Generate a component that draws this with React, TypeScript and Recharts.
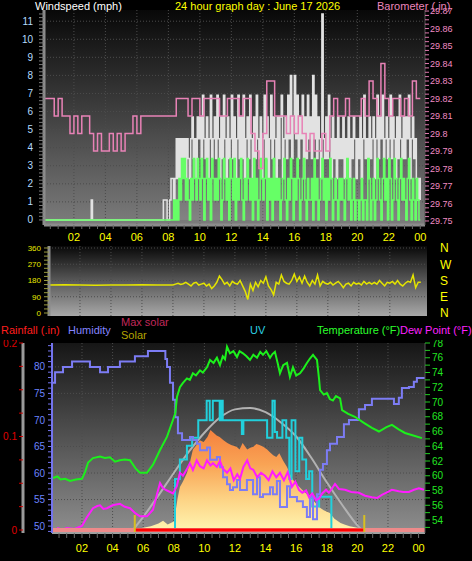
import React from 'react';
import { ComposedChart, Line, Area, XAxis, YAxis, CartesianGrid, ReferenceLine } from 'recharts';

const FONT = "'Liberation Sans', Arial, sans-serif";

// ---- shared axis labels ----
const hourLabels = ['02', '04', '06', '08', '10', '12', '14', '16', '18', '20', '22', '00'];
const evenHours = [2, 4, 6, 8, 10, 12, 14, 16, 18, 20, 22];
const halfHours = Array.from({ length: 48 }, (_, i) => (i + 1) / 2);
const hourTick = (v: number) => (v % 2 === 0 ? hourLabels[v / 2 - 1] : '');

// ---- top panel: wind speed (mph), quiet night then 5-minute samples from 08:00 ----
const gustQuiet = [[0, 0], [3.05, 0], [3.1, 1.1], [3.18, 0], [7.68, 1.1], [7.92, 0]];
const gustRows = [
  [0, 1.1, 2.3, 2.3, 1.1, 2.3, 4.5, 2.3, 4.5, 2.3, 4.5, 3.4],
  [4.5, 2.3, 4.5, 3.4, 2.3, 4.5, 5.7, 3.4, 4.5, 2.3, 5.7, 4.5],
  [5.7, 3.4, 6.9, 4.5, 3.4, 5.7, 2.3, 4.5, 6.9, 3.4, 4.5, 5.7],
  [3.4, 6.9, 4.5, 2.3, 5.7, 3.4, 6.9, 4.5, 2.3, 5.7, 3.4, 4.5],
  [6.9, 3.4, 5.7, 2.3, 4.5, 6.9, 3.4, 5.7, 3.4, 6.9, 2.3, 4.5],
  [5.7, 3.4, 6.9, 4.5, 2.3, 5.7, 3.4, 6.9, 4.5, 3.4, 5.7, 2.3],
  [4.5, 6.9, 3.4, 5.7, 2.3, 4.5, 6.9, 3.4, 5.7, 4.5, 2.3, 5.7],
  [3.4, 5.7, 6.9, 2.3, 4.5, 5.7, 3.4, 6.9, 4.5, 8.0, 3.4, 5.7],
  [8.0, 4.5, 6.9, 3.4, 5.7, 4.5, 6.9, 2.3, 5.7, 3.4, 6.9, 4.5],
  [5.7, 3.4, 8.0, 4.5, 6.9, 3.4, 5.7, 4.5, 2.3, 11.4, 4.5, 3.4],
  [5.7, 3.4, 6.9, 4.5, 2.3, 5.7, 3.4, 4.5, 2.3, 5.7, 3.4, 4.5],
  [3.4, 5.7, 2.3, 4.5, 3.4, 5.7, 2.3, 4.5, 3.4, 5.7, 4.5, 2.3],
  [4.5, 3.4, 5.7, 2.3, 4.5, 6.9, 3.4, 4.5, 2.3, 5.7, 3.4, 4.5],
  [5.7, 2.3, 4.5, 6.9, 3.4, 5.7, 4.5, 6.9, 3.4, 4.5, 5.7, 3.4],
  [4.5, 6.9, 3.4, 5.7, 4.5, 2.3, 5.7, 3.4, 6.9, 4.5, 3.4, 5.7],
  [3.4, 5.7, 4.5, 6.9, 2.3, 4.5, 5.7, 3.4, 4.5, 2.3, 1.1, 2.3],
];
const gustEnd = 1.1;

const avgQuiet = [[0, 0]];
const avgRows = [
  [0, 0, 0, 0, 1.1, 0, 1.1, 0, 2.3, 1.1, 3.4, 2.3],
  [3.4, 1.1, 2.3, 1.1, 0, 2.3, 1.1, 3.4, 2.3, 1.1, 3.4, 2.3],
  [1.1, 3.4, 2.3, 0, 2.3, 3.4, 1.1, 2.3, 0, 3.4, 2.3, 1.1],
  [2.3, 1.1, 3.4, 2.3, 0, 1.1, 3.4, 2.3, 1.1, 2.3, 0, 3.4],
  [2.3, 1.1, 3.4, 0, 2.3, 1.1, 2.3, 3.4, 1.1, 0, 2.3, 1.1],
  [3.4, 2.3, 1.1, 2.3, 0, 3.4, 1.1, 2.3, 0, 1.1, 3.4, 2.3],
  [1.1, 2.3, 3.4, 0, 2.3, 1.1, 2.3, 0, 3.4, 1.1, 2.3, 1.1],
  [2.3, 0, 1.1, 2.3, 3.4, 1.1, 0, 2.3, 1.1, 3.4, 2.3, 0],
  [2.3, 1.1, 3.4, 2.3, 0, 1.1, 2.3, 3.4, 1.1, 0, 2.3, 1.1],
  [1.1, 2.3, 0, 3.4, 1.1, 2.3, 0, 1.1, 2.3, 3.4, 1.1, 2.3],
  [0, 2.3, 1.1, 3.4, 2.3, 0, 1.1, 2.3, 1.1, 0, 2.3, 1.1],
  [2.3, 1.1, 0, 2.3, 3.4, 1.1, 2.3, 0, 1.1, 2.3, 0, 1.1],
  [1.1, 0, 1.1, 2.3, 0, 1.1, 1.1, 0, 3.4, 2.3, 0, 1.1],
  [2.3, 0, 1.1, 3.4, 2.3, 1.1, 0, 2.3, 3.4, 1.1, 2.3, 0],
  [3.4, 2.3, 0, 1.1, 3.4, 2.3, 1.1, 0, 2.3, 3.4, 1.1, 2.3],
  [1.1, 0, 2.3, 3.4, 1.1, 0, 2.3, 1.1, 0, 2.3, 1.1, 0],
];
const avgEnd = 0;

// barometer (in), 15-minute samples from 00:00
const baroRows = [
  [29.82, 29.82, 29.82, 29.81], [29.82, 29.81, 29.81, 29.80], [29.81, 29.80, 29.81, 29.81],
  [29.80, 29.79, 29.80, 29.79], [29.79, 29.80, 29.79, 29.80], [29.79, 29.80, 29.80, 29.81],
  [29.80, 29.81, 29.81, 29.81], [29.81, 29.81, 29.81, 29.81], [29.81, 29.81, 29.82, 29.82],
  [29.82, 29.81, 29.82, 29.82], [29.81, 29.82, 29.82, 29.82], [29.82, 29.81, 29.81, 29.82],
  [29.82, 29.82, 29.81, 29.82], [29.82, 29.80, 29.79, 29.78], [29.80, 29.83, 29.83, 29.81],
  [29.81, 29.81, 29.80, 29.81], [29.80, 29.81, 29.80, 29.79], [29.80, 29.79, 29.79, 29.80],
  [29.79, 29.81, 29.82, 29.81], [29.81, 29.82, 29.81, 29.81], [29.81, 29.82, 29.81, 29.83],
  [29.82, 29.81, 29.84, 29.82], [29.81, 29.82, 29.82, 29.81], [29.82, 29.81, 29.83, 29.82],
];
const baroEnd = 29.82;

// ---- middle panel: wind direction (deg) ----
const dirNight = [[0, 155], [1, 157], [2, 155], [3, 154], [4, 155], [5, 155], [6, 156], [7, 155]];
const dirRows = [
  [155, 160, 165, 158, 162, 170],
  [160, 150, 165, 170, 155, 160],
  [165, 150, 160, 135, 150, 170],
  [205, 185, 160, 170, 150, 175],
  [165, 160, 180, 150, 120, 75],
  [160, 125, 170, 145, 180, 165],
  [200, 150, 130, 100, 170, 160],
  [210, 175, 165, 160, 180, 215],
  [175, 200, 165, 205, 170, 150],
  [180, 160, 210, 150, 175, 165],
  [160, 170, 155, 165, 175, 160],
  [140, 160, 165, 150, 170, 160],
  [165, 155, 175, 160, 170, 160],
  [170, 160, 180, 165, 150, 170],
  [165, 175, 160, 180, 160, 150],
  [165, 175, 170, 210, 140, 170],
];
const dirEnd = 170;
const compass: Record<number, string> = { 0: 'N', 90: 'E', 180: 'S', 270: 'W', 360: 'N' };

// ---- bottom panel: [hour, value] readings ----
const humidity = [
  [0.1, 77], [0.24, 79], [0.76, 80], [1.35, 81], [2.52, 80], [3.18, 79], [3.7, 80], [4.48, 81],
  [5.46, 82], [6.31, 83], [7.29, 83], [7.45, 81.5], [7.56, 80], [7.75, 77], [7.95, 73.8], [8.1, 70.5],
  [8.27, 67.5], [8.54, 66.2], [9.06, 66.8], [9.25, 66.2], [9.52, 65.5], [9.71, 64.3], [10.17, 64.8],
  [10.37, 62.5], [10.82, 63], [11.02, 61.1], [11.22, 59.2], [11.48, 57.9], [11.67, 56.8], [11.87, 57.3],
  [12.13, 58.7], [12.33, 56.8], [12.78, 58.7], [13.18, 56.0], [13.44, 59.2], [13.63, 55.5], [13.83, 56],
  [14.29, 57.3], [14.48, 56.0], [14.74, 58.5], [14.94, 53.6], [15.4, 57.5], [15.59, 55.5], [16.05, 54.7],
  [16.44, 53.6], [16.7, 51.7], [16.9, 55.5], [17.1, 51.3], [17.36, 56], [17.56, 60.6], [17.75, 61.7],
  [18.01, 64.3], [18.21, 65.5], [18.67, 66.8], [19.12, 69.2], [19.45, 70], [20.1, 72], [20.5, 72.8],
  [20.95, 74], [22.26, 74], [22.39, 73], [22.71, 74.2], [22.91, 76], [23.37, 76.2], [23.69, 77.2],
  [23.89, 77.9], [24.35, 78.1],
];
const temperature = [
  [0.1, 59.7], [0.4, 59.9], [0.6, 59.5], [0.9, 59.6], [1.22, 59.3], [1.6, 59.5], [2.0, 59.6], [2.2, 60.5],
  [2.4, 61.8], [2.72, 62.4], [3.18, 62.6], [3.5, 62.4], [3.83, 62.5], [4.16, 61.9], [4.48, 62.1], [4.8, 62.2],
  [5.14, 62.1], [5.5, 61.0], [5.79, 60.4], [6.25, 60.4], [6.64, 61.5], [7.1, 63.5], [7.56, 65.3], [7.95, 67.6],
  [8.1, 68.5], [8.21, 70.7], [8.4, 72.0], [8.6, 72.6], [8.86, 73.2], [9.05, 73.0], [9.25, 73.9], [9.45, 73.6],
  [9.71, 74.3], [9.9, 74.0], [10.17, 74.7], [10.37, 75.7], [10.6, 75.3], [10.82, 76.0], [11.02, 75.0],
  [11.2, 76.2], [11.35, 75.8], [11.48, 77.5], [11.67, 76.6], [11.9, 76.9], [12.13, 76.1], [12.3, 76.9],
  [12.52, 76.6], [12.75, 76.2], [12.98, 75.7], [13.2, 76.4], [13.44, 76.0], [13.65, 76.8], [13.83, 76.4],
  [14.05, 76.9], [14.29, 76.0], [14.45, 76.5], [14.61, 76.8], [14.8, 75.2], [14.94, 73.9], [15.15, 75.0],
  [15.4, 75.3], [15.59, 73.4], [15.79, 74.7], [16.0, 73.6], [16.25, 73.9], [16.5, 74.6], [16.7, 75.3],
  [16.9, 75.9], [17.1, 76.4], [17.36, 75.7], [17.5, 73.0], [17.56, 71.6], [17.8, 71.0], [18.01, 71.2],
  [18.2, 70.4], [18.4, 70.2], [18.6, 70.8], [18.87, 70.5], [19.0, 68.9], [19.4, 68.4], [19.84, 68.0],
  [20.4, 67.2], [20.95, 66.5], [21.41, 66.0], [21.9, 66.6], [22.26, 66.9], [22.7, 66.3], [23.11, 65.8],
  [23.6, 65.5], [24.22, 65.1],
];
const dewPoint = [
  [0.1, 52.2], [0.43, 52.9], [0.7, 52.7], [1.02, 52.9], [1.5, 52.8], [2.0, 53.2], [2.3, 54.3], [2.72, 55.6],
  [3.0, 55.9], [3.18, 56.0], [3.4, 55.5], [3.63, 55.6], [4.0, 56.0], [4.48, 56.2], [4.8, 55.8], [5.14, 55.6],
  [5.5, 54.9], [5.79, 54.5], [6.25, 54.5], [6.64, 55.4], [6.9, 57.5], [7.1, 59.0], [7.3, 58.3], [7.56, 58.0],
  [7.95, 57.6], [8.2, 58.6], [8.4, 60.4], [8.6, 60.0], [8.86, 60.9], [9.05, 61.7], [9.25, 60.8], [9.5, 62.1],
  [9.71, 61.3], [9.95, 61.0], [10.17, 62.1], [10.4, 61.4], [10.56, 61.7], [10.82, 61.2], [11.02, 62.0],
  [11.2, 61.0], [11.48, 60.4], [11.7, 61.0], [11.92, 59.4], [12.15, 60.2], [12.33, 59.6], [12.55, 61.2],
  [12.8, 62.1], [13.0, 61.0], [13.2, 60.8], [13.45, 59.8], [13.7, 60.4], [13.96, 60.0], [14.2, 59.4],
  [14.45, 60.6], [14.7, 59.8], [14.94, 60.4], [15.2, 59.4], [15.45, 60.5], [15.72, 58.5], [15.95, 59.2],
  [16.18, 58.1], [16.4, 57.7], [16.65, 58.0], [16.84, 57.1], [17.05, 57.6], [17.3, 56.7], [17.49, 56.9],
  [17.7, 57.6], [17.95, 58.1], [18.14, 57.7], [18.35, 58.3], [18.54, 58.9], [18.8, 58.2], [19.19, 58.1],
  [19.6, 57.8], [20.1, 57.7], [20.5, 57.3], [20.95, 57.1], [21.3, 57.0], [21.6, 57.4], [21.9, 57.7],
  [22.26, 58.1], [22.7, 57.9], [23.0, 57.8], [23.37, 57.8], [23.7, 58.1], [24.02, 58.3], [24.35, 58.1],
];
const solar = [
  [5.3, 0], [5.5, 5], [6.0, 12], [6.5, 20], [7.0, 35], [7.3, 50], [7.6, 30], [8.0, 45], [8.1, 90], [8.25, 170],
  [8.4, 230], [8.6, 260], [8.86, 305], [9.05, 360], [9.25, 430], [9.45, 450], [9.7, 480], [9.95, 470],
  [10.2, 497], [10.4, 535], [10.6, 520], [10.8, 505], [11.0, 497], [11.25, 480], [11.5, 465], [11.75, 455],
  [12.1, 445], [12.3, 430], [12.5, 465], [12.8, 430], [13.0, 440], [13.2, 445], [13.4, 460], [13.6, 455],
  [13.85, 445], [14.1, 430], [14.3, 415], [14.5, 400], [14.7, 390], [14.9, 410], [15.15, 370], [15.4, 337],
  [15.6, 300], [15.8, 267], [16.1, 240], [16.4, 214], [16.65, 195], [16.9, 177], [17.2, 150], [17.5, 123],
  [17.8, 105], [18.2, 91], [18.5, 60], [18.9, 37], [19.2, 28], [19.5, 20], [20.0, 12], [20.5, 5], [20.8, 0],
];
const maxSolar = [
  [5.33, 0], [6, 70], [7, 185], [8, 305], [9, 420], [10, 520], [11, 600], [12, 645], [13, 652], [14, 630],
  [15, 575], [16, 500], [17, 385], [18, 255], [19, 135], [20, 25], [20.3, 0],
];
const uv = [
  [8.05, 0], [8.08, 2.6], [8.4, 3.6], [8.86, 4.3], [9.2, 4.7], [9.6, 5.6], [10.15, 6.6], [10.35, 5.6],
  [10.55, 6.6], [11.0, 5.6], [11.1, 6.6], [11.2, 5.6], [12.45, 4.9], [12.55, 5.6], [14.1, 4.7], [14.45, 6.6],
  [14.6, 5.0], [14.75, 4.7], [15.1, 5.6], [15.35, 4.7], [15.55, 2.6], [15.7, 5.6], [15.95, 3.0], [16.2, 4.7],
  [16.4, 3.6], [16.65, 2.6], [16.85, 3.0], [17.05, 1.2], [17.5, 1.7], [18.2, 1.7], [18.3, 0],
];
const rainfall = [[0, 0], [24.42, 0]];
const sunrise = 5.45;
const sunset = 20.45;

// ---- helpers ----
const sampled = (rows: number[][], start: number, perHour: number) =>
  rows.flatMap((row, i) => row.map((v, j) => ({ t: start + i + j / perHour, v })));
const pairs = (list: number[][]) => list.map(([t, v]) => ({ t, v }));

const gustData = [...pairs(gustQuiet), ...sampled(gustRows, 8, 12), { t: 24, v: gustEnd }];
const avgData = [...pairs(avgQuiet), ...sampled(avgRows, 8, 12), { t: 24, v: avgEnd }];
const baroData = [...sampled(baroRows, 0, 4), { t: 24, v: baroEnd }];
const dirData = [...pairs(dirNight), ...sampled(dirRows, 8, 6), { t: 24, v: dirEnd }];
const rainDay = rainfall.map(([, v], i) => ({ t: i === 0 ? sunrise : sunset, v }));

const windTicks = Array.from({ length: 58 }, (_, i) => +(i * 0.2).toFixed(1));
const baroTicks = Array.from({ length: 49 }, (_, i) => +(29.75 + i * 0.0025).toFixed(4));
const dirTicks = Array.from({ length: 17 }, (_, i) => i * 22.5);
const rainTicks = Array.from({ length: 9 }, (_, i) => +(i * 0.025).toFixed(3));
const humTicks = Array.from({ length: 36 }, (_, i) => 49 + i);
const tempTicks = Array.from({ length: 26 }, (_, i) => 53 + i);

const label = (left: number, top: number, color: string, text: string) => (
  <span
    style={{ position: 'absolute', left, top, color, fontSize: 11, lineHeight: '12px', whiteSpace: 'nowrap' }}
  >
    {text}
  </span>
);

export default function App() {
  return (
    <div
      style={{
        position: 'absolute', left: 0, top: 0, width: 472, height: 561,
        background: '#000', overflow: 'hidden', fontFamily: FONT,
      }}
    >
      {/* wind speed + barometer */}
      <div style={{ position: 'absolute', left: 0, top: 8 }}>
        <ComposedChart width={472} height={237} margin={{ top: 2, right: 0, bottom: 0, left: 0 }}>
          <defs>
            <linearGradient id="bgTop" x1="0" y1="0" x2="0" y2="1">
              <stop offset="0" stopColor="#080808" />
              <stop offset="1" stopColor="#7c7c7c" />
            </linearGradient>
          </defs>
          <CartesianGrid
            xAxisId="h" yAxisId="wind" fill="url(#bgTop)" stroke="#4c4c4c" strokeDasharray="1 2"
            horizontalValues={[1, 2, 3, 4, 5, 6, 7, 8, 9, 10, 11]} verticalValues={evenHours}
          />
          <XAxis
            xAxisId="h" dataKey="t" type="number" domain={[0.1, 24.3]} allowDataOverflow
            ticks={halfHours} interval={0} tickFormatter={hourTick} height={20}
            tickSize={4} tickMargin={4} tick={{ fill: '#ffff00', fontSize: 11 }}
            axisLine={{ stroke: '#8c8c8c', strokeWidth: 3 }} tickLine={{ stroke: '#6a6a6a' }}
          />
          <YAxis
            yAxisId="wind" orientation="left" width={44} type="number" domain={[-0.28, 11.62]}
            allowDataOverflow ticks={windTicks} interval={0}
            tickFormatter={(v: number) => (Number.isInteger(v) ? String(v) : '')}
            tickSize={5} tickMargin={6} tick={{ fill: '#b4dcff', fontSize: 10 }}
            axisLine={{ stroke: '#8c8c8c', strokeWidth: 3 }} tickLine={{ stroke: '#7a7a7a' }}
          />
          <YAxis
            yAxisId="baro" orientation="right" width={47} type="number" domain={[29.7477, 29.8706]}
            allowDataOverflow ticks={baroTicks} interval={0}
            tickFormatter={(v: number) => (Math.round(v * 10000) % 100 === 0 ? String(+v.toFixed(2)) : '')}
            tickSize={4} tickMargin={1} tick={{ fill: '#f08cc4', fontSize: 9 }}
            axisLine={{ stroke: '#555' }} tickLine={{ stroke: '#e07ab0' }}
          />
          <Area
            xAxisId="h" yAxisId="wind" data={gustData} dataKey="v" type="stepAfter"
            stroke="#e2e2e2" strokeWidth={1.5} fill="#a8a8a8" fillOpacity={0.2}
            dot={false} isAnimationActive={false}
          />
          <Line
            xAxisId="h" yAxisId="wind" data={avgData} dataKey="v" type="stepAfter"
            stroke="#66ff66" strokeWidth={1.5} dot={false} isAnimationActive={false}
          />
          <Line
            xAxisId="h" yAxisId="baro" data={baroData} dataKey="v" type="stepAfter"
            stroke="#e882b6" strokeWidth={1.5} dot={false} isAnimationActive={false}
          />
        </ComposedChart>
      </div>

      {/* wind direction */}
      <div style={{ position: 'absolute', left: 0, top: 240 }}>
        <ComposedChart width={472} height={80} margin={{ top: 6, right: 0, bottom: 4, left: 0 }}>
          <defs>
            <linearGradient id="bgMid" x1="0" y1="0" x2="0" y2="1">
              <stop offset="0" stopColor="#080808" />
              <stop offset="1" stopColor="#a8a8a8" />
            </linearGradient>
          </defs>
          <CartesianGrid
            xAxisId="h" yAxisId="dir" fill="url(#bgMid)" stroke="#4c4c4c" strokeDasharray="1 2"
            horizontalValues={[90, 180, 270, 360]} verticalValues={evenHours}
          />
          <XAxis xAxisId="h" dataKey="t" type="number" domain={[0, 24.4]} allowDataOverflow hide />
          <YAxis
            yAxisId="dir" orientation="left" width={49} type="number" domain={[-16.6, 371]}
            allowDataOverflow ticks={dirTicks} interval={0}
            tickFormatter={(v: number) => (v % 90 === 0 ? String(v) : '')}
            tickSize={5} tickMargin={3} tick={{ fill: '#e8e800', fontSize: 8 }}
            axisLine={{ stroke: '#8c8c8c', strokeWidth: 3 }} tickLine={{ stroke: '#9a9a40' }}
          />
          <YAxis
            yAxisId="compass" orientation="right" width={45} type="number" domain={[-16.6, 371]}
            allowDataOverflow ticks={[0, 90, 180, 270, 360]} interval={0}
            tickFormatter={(v: number) => compass[v]} tickSize={0} tickMargin={13}
            tick={{ fill: '#ffff00', fontSize: 12 }} axisLine={false} tickLine={false}
          />
          <Line
            xAxisId="h" yAxisId="dir" data={dirData} dataKey="v" type="linear"
            stroke="#e4e400" strokeWidth={1.5} dot={false} isAnimationActive={false}
          />
        </ComposedChart>
      </div>

      {/* rain / humidity / solar / UV / temperature / dew point */}
      <div style={{ position: 'absolute', left: 0, top: 340 }}>
        <ComposedChart width={472} height={221} margin={{ top: 3, right: 0, bottom: 0, left: 0 }}>
          <defs>
            <linearGradient id="bgBot" x1="0" y1="0" x2="0" y2="1">
              <stop offset="0" stopColor="#161616" />
              <stop offset="1" stopColor="#8e8e8e" />
            </linearGradient>
            <linearGradient id="solarFill" x1="0" y1="0" x2="0" y2="1">
              <stop offset="0" stopColor="#f5813e" />
              <stop offset="0.35" stopColor="#f9a455" />
              <stop offset="0.7" stopColor="#fdd486" />
              <stop offset="1" stopColor="#fff4b0" />
            </linearGradient>
          </defs>
          <CartesianGrid
            xAxisId="h" yAxisId="hum" fill="url(#bgBot)" stroke="#4c4c4c" strokeDasharray="1 2"
            horizontalValues={[55, 60, 65, 70, 75, 80]} verticalValues={evenHours}
          />
          <XAxis
            xAxisId="h" dataKey="t" type="number" domain={[0.04, 24.42]} allowDataOverflow
            ticks={halfHours} interval={0} tickFormatter={hourTick} height={28}
            tickSize={5} tickMargin={6} tick={{ fill: '#ffff00', fontSize: 11 }}
            axisLine={{ stroke: '#a0a0a0', strokeWidth: 2 }} tickLine={{ stroke: '#6a6a6a' }}
          />
          <YAxis
            yAxisId="rain" orientation="left" width={23} type="number" domain={[-0.0032, 0.2]}
            allowDataOverflow ticks={rainTicks} interval={0}
            tickFormatter={(v: number) => (Math.round(v * 1000) % 100 === 0 ? String(v) : '')}
            tickSize={4} tickMargin={2} tick={{ fill: '#e00000', fontSize: 10 }}
            axisLine={{ stroke: '#9a9a9a', strokeWidth: 3 }} tickLine={{ stroke: '#d00000' }}
          />
          <YAxis
            yAxisId="hum" orientation="left" width={29} type="number" domain={[48.7, 84.5]}
            allowDataOverflow ticks={humTicks} interval={0}
            tickFormatter={(v: number) => (v % 5 === 0 ? String(v) : '')}
            tickSize={4} tickMargin={3} tick={{ fill: '#6c84ff', fontSize: 10 }}
            axisLine={{ stroke: '#7474ee', strokeWidth: 2 }} tickLine={{ stroke: '#7474ee' }}
          />
          <YAxis
            yAxisId="temp" orientation="right" width={47} type="number" domain={[52.24, 78]}
            allowDataOverflow ticks={tempTicks} interval={0}
            tickFormatter={(v: number) => (v % 2 === 0 && v >= 54 ? String(v) : '')}
            tickSize={5} tickMargin={2} tick={{ fill: '#22e622', fontSize: 10 }}
            axisLine={{ stroke: '#555' }} tickLine={{ stroke: '#22cc22' }}
          />
          <YAxis yAxisId="solar" hide type="number" domain={[-16, 1000]} allowDataOverflow />
          <YAxis yAxisId="uv" hide type="number" domain={[-0.153, 9.54]} allowDataOverflow />
          <Area
            xAxisId="h" yAxisId="solar" data={pairs(solar)} dataKey="v" type="linear"
            stroke="none" fill="url(#solarFill)" fillOpacity={1} dot={false} isAnimationActive={false}
          />
          <Line
            xAxisId="h" yAxisId="solar" data={pairs(maxSolar)} dataKey="v" type="monotone"
            stroke="#b2b2b2" strokeWidth={2} dot={false} isAnimationActive={false}
          />
          <Line
            xAxisId="h" yAxisId="uv" data={pairs(uv)} dataKey="v" type="stepAfter"
            stroke="#22d0dc" strokeWidth={2} dot={false} isAnimationActive={false}
          />
          <Line
            xAxisId="h" yAxisId="hum" data={pairs(humidity)} dataKey="v" type="stepAfter"
            stroke="#7c7cf4" strokeWidth={2} dot={false} isAnimationActive={false}
          />
          <Line
            xAxisId="h" yAxisId="temp" data={pairs(dewPoint)} dataKey="v" type="linear"
            stroke="#ff1cff" strokeWidth={2} dot={false} isAnimationActive={false}
          />
          <Line
            xAxisId="h" yAxisId="temp" data={pairs(temperature)} dataKey="v" type="linear"
            stroke="#1cf01c" strokeWidth={2} dot={false} isAnimationActive={false}
          />
          <Line
            xAxisId="h" yAxisId="rain" data={pairs(rainfall)} dataKey="v" type="linear"
            stroke="#ee8a8a" strokeWidth={4} dot={false} isAnimationActive={false}
          />
          <Line
            xAxisId="h" yAxisId="rain" data={rainDay} dataKey="v" type="linear"
            stroke="#ff0000" strokeWidth={3} dot={false} isAnimationActive={false}
          />
          <ReferenceLine
            xAxisId="h" yAxisId="rain" stroke="#d8c020" strokeWidth={2}
            segment={[{ x: sunrise, y: -0.0032 }, { x: sunrise, y: 0.016 }]}
          />
          <ReferenceLine
            xAxisId="h" yAxisId="rain" stroke="#d8c020" strokeWidth={2}
            segment={[{ x: sunset, y: -0.0032 }, { x: sunset, y: 0.016 }]}
          />
        </ComposedChart>
      </div>

      {label(35, 0, '#ffffff', 'Windspeed (mph)')}
      {label(175, 0, '#ffff00', '24 hour graph day : June 17 2026')}
      {label(377, 0, '#ec86bc', 'Barometer (.in)')}
      {label(1, 324, '#ff1e1e', 'Rainfall (.in)')}
      {label(68, 324, '#8484ff', 'Humidity')}
      {label(121, 316, '#c0285a', 'Max solar')}
      {label(121, 329, '#b4a400', 'Solar')}
      {label(250, 324, '#2cd0e4', 'UV')}
      {label(317, 324, '#2cff2c', 'Temperature (°F)')}
      {label(400, 324, '#ff22ff', 'Dew Point (°F)')}
    </div>
  );
}
